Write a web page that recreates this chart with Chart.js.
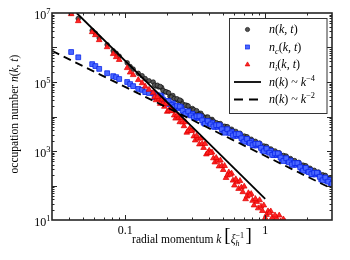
<!DOCTYPE html>
<html><head><meta charset="utf-8">
<script src="https://cdn.jsdelivr.net/npm/chart.js@4"></script>
<style>html,body{margin:0;padding:0;background:#fff;}canvas{display:block;}</style>
</head><body>
<canvas id="c" width="350" height="260"></canvas>
<script>
// ---- data (log-log) ----
const kSparse = [0.0411,0.0462,0.0581,0.0612,0.0652,0.0743,0.0821,0.0862,0.0906,0.1033,0.1085,0.114,0.124,0.132,0.139,0.148];
const nTotalSparse = [1.0e7,6.9e6,3.1e6,2.59e6,1.89e6,1.2e6,8.0e5,6.8e5,5.6e5,3.6e5,2.8e5,2.36e5,1.78e5,1.52e5,1.25e5,1.08e5];
const nCompSparse = [7.4e5,5.2e5,3.3e5,2.9e5,2.4e5,1.8e5,1.48e5,1.38e5,1.22e5,1.0e5,8.7e4,7.6e4,6.3e4,5.9e4,5.1e4,4.8e4];
const nIncSparse = [9.35e6,5.86e6,2.81e6,2.30e6,1.65e6,1.03e6,6.5e5,5.3e5,4.4e5,2.55e5,1.9e5,1.6e5,1.15e5,9.3e4,7.4e4,6.0e4];

const kDense = [0.1585,0.1660,0.1738,0.1820,0.1905,0.1995,0.2089,0.2188,0.2291,0.2399,
0.2512,0.2630,0.2754,0.2884,0.3020,0.3162,0.3311,0.3467,0.3631,0.3802,
0.3981,0.4169,0.4365,0.4571,0.4786,0.5012,0.5248,0.5495,0.5754,0.6026,
0.6310,0.6607,0.6918,0.7244,0.7586,0.7943,0.8318,0.8710,0.9120,0.9550,
1.000,1.047,1.096,1.148,1.202,1.259,1.318,1.380,1.445,1.514,
1.585,1.660,1.738,1.820,1.905,1.995,2.089,2.188,2.291,2.399,
2.512,2.630,2.754,2.884,2.951];
const nTotalDense = [99500,76200,71900,69500,53500,50300,38800,40500,31300,28900,
28100,21600,21000,16200,17000,13200,12600,12400,9680,9530,
7780,8230,6470,6260,6210,4890,5070,4000,4270,3370,
3280,3270,2590,2580,2050,2190,1740,1690,1690,1340,
1340,1072,1148,912,891,891,708,708,562,603,
479,468,468,372,372,295,316,251,245,245,
195,195,155,166,138];
const nCompDense = [47900,36300,36300,38000,26300,27500,22900,24000,18200,17400,
18200,12600,13800,11500,12000,9120,9120,9550,6610,7240,
6310,6610,5010,5010,5250,3630,4170,3470,3630,2750,
2750,2880,1995,2190,1820,1905,1445,1445,1514,1047,
1148,955,1000,759,759,794,550,603,501,525,
398,398,417,288,316,263,275,209,209,219,
151,166,138,145,115];
const nIncDense = [49000,29900,31600,30900,19400,13800,16100,14500,8790,9290,
9100,5280,3430,4390,3930,2040,2290,2330,1240,804,
1023,912,471,526,535,284,167,242,223,101,
125,136,64.7,40.4,60.3,57.0,26.7,33.8,37.8,18.4,
11.5,18.0,17.9,8.75,11.6,13.6,7.0,9.1];

const kHalf = [0.1622,0.1698,0.1778,0.1862,0.1950,0.2042,0.2138,0.2239,0.2344,0.2455,
0.2570,0.2692,0.2818,0.2951,0.3090,0.3236,0.3388,0.3548,0.3715,0.3890,
0.4074,0.4266,0.4467,0.4677,0.4898,0.5129,0.5370,0.5623,0.5888,0.6166,
0.6457,0.6761,0.7079,0.7413,0.7762,0.8128,0.8511,0.8913,0.9333,0.9772,
1.023,1.072,1.122,1.175,1.230,1.288,1.349,1.413,1.479,1.549,
1.622,1.698,1.778,1.862,1.950,2.042,2.138,2.239,2.344,2.455,
2.570,2.692,2.818,2.985];
const nTotalHalf = [81300,80400,74100,56900,51900,48500,36600,33200,32600,29900,
23000,21300,20200,15300,15700,14700,11400,10700,8970,9660,
7730,7290,6590,5960,5020,5210,5060,3990,3790,3690,
2860,2650,2710,2580,2050,1950,1905,1476,1374,1403,
1346,1072,1023,1000,776,724,741,708,562,537,
525,407,380,389,372,295,282,275,214,200,
204,195,155,145];
const nCompHalf = [37200,40700,40700,30900,23400,28200,21400,18600,20400,19500,
14800,11700,14100,10700,9330,10200,10200,7760,6170,7410,
5890,5130,5620,5620,4270,3390,4270,3240,2820,3090,
3090,2340,1860,2240,1700,1480,1620,1620,1230,977,
1175,891,776,851,851,646,513,617,468,407,
447,447,339,269,324,245,214,234,234,178,
141,170,129,110];
const nIncHalf = [36600,36900,23500,23700,23400,14600,14400,10800,10900,6900,
6820,6890,3800,3810,2670,2760,1570,1620,1620,889,
887,619,637,361,371,371,197,207,140,153,
80.4,87.9,93.8,48.4,52.4,36.4,40.9,22.0,24.7,26.7,
14.2,16.0,11.7,13.7,7.7,9.1,10.5];

const kLine4 = [0.0450, 1.0];   const nLine4 = [1.0e7, 41];   // n(k) ~ k^-4
const kLine2 = [0.03, 3.0];     const nLine2 = [8.0e5, 80];   // n(k) ~ k^-2

const yTickValues = [10, 1e3, 1e5, 1e7];
const yTickBase = ['10','10','10','10'];
const yTickExp = ['1','3','5','7'];
const xTickValues = [0.1, 1];
const xTickLabels = ['0.1','1'];

// ---- build datasets ----
const toXY = (ks, ns) => ns.map((n, i) => ({x: ks[i], y: n}));
const totalPts = toXY(kSparse, nTotalSparse).concat(toXY(kDense, nTotalDense), toXY(kHalf, nTotalHalf));
const compPts = toXY(kSparse, nCompSparse).concat(toXY(kDense, nCompDense), toXY(kHalf, nCompHalf));
const incPts = toXY(kSparse, nIncSparse).concat(toXY(kDense, nIncDense), toXY(kHalf, nIncHalf));
const line4 = toXY(kLine4, nLine4);
const line2 = toXY(kLine2, nLine2);

const BLUE_FILL = '#4a68ff', BLUE_EDGE = '#0a26e8';
const FAM = '"Liberation Serif", "Times New Roman", serif';
const fnt = p => (p.it ? 'italic ' : '') + p.s + 'px ' + FAM;
function rich(ctx, parts, x, y, measureOnly) {
  let cx = x;
  for (const p of parts) {
    if (p.stack) {
      let w = 0;
      for (const q of p.stack) {
        ctx.font = fnt(q);
        if (!measureOnly) ctx.fillText(q.t, cx, y + (q.dy || 0));
        w = Math.max(w, ctx.measureText(q.t).width);
      }
      cx += w;
    } else {
      ctx.font = fnt(p);
      if (!measureOnly) ctx.fillText(p.t, cx, y + (p.dy || 0));
      cx += ctx.measureText(p.t).width;
    }
  }
  return cx - x;
}
const nkt = (s, sub) => {
  const a = [{t:'n', s, it:1}];
  if (sub) a.push({t:sub, s:s*0.7, it:1, dy:3});
  a.push({t:'(', s}, {t:'k', s, it:1}, {t:', ', s}, {t:'t', s, it:1}, {t:')', s});
  return a;
};
const powLaw = (s, e) => [{t:'n', s, it:1},{t:'(', s},{t:'k', s, it:1},{t:')', s},{t:' ~ ', s},{t:'k', s, it:1},{t:e, s:s*0.7, dy:-5}];

const decor = {
  id: 'decor',
  afterDraw(chart) {
    const {ctx, chartArea: a, scales: {x, y}} = chart;
    ctx.save();
    ctx.fillStyle = '#000';
    ctx.textAlign = 'left';
    ctx.textBaseline = 'alphabetic';
    // ticks
    ctx.strokeStyle = '#262626';
    ctx.lineWidth = 1;
    ctx.beginPath();
    for (let d = 1; d <= 6; d++) {
      for (let m = 1; m <= 9; m++) {
        const v = m * Math.pow(10, d);
        if (d === 1 && m === 1) continue;
        const py = Math.round(y.getPixelForValue(v)) + 0.5;
        const L = m === 1 ? 5 : 2.5;
        ctx.moveTo(a.left, py); ctx.lineTo(a.left + L, py);
        ctx.moveTo(a.right, py); ctx.lineTo(a.right - L, py);
      }
    }
    for (let d = -2; d <= 0; d++) {
      for (let m = 1; m <= 9; m++) {
        const v = m * Math.pow(10, d);
        if (v <= 0.0301 || v >= 2.99) continue;
        const px = Math.round(x.getPixelForValue(v)) + 0.5;
        const L = m === 1 ? 5 : 2.5;
        ctx.moveTo(px, a.bottom); ctx.lineTo(px, a.bottom - L);
        ctx.moveTo(px, a.top); ctx.lineTo(px, a.top + L);
      }
    }
    ctx.stroke();
    // frame
    ctx.lineWidth = 1.6;
    ctx.strokeRect(a.left, a.top, a.right - a.left, a.bottom - a.top);

    // y tick labels
    yTickValues.forEach((v, i) => {
      const py = y.getPixelForValue(v);
      ctx.font = fnt({s:8.5});
      const we = ctx.measureText(yTickExp[i]).width;
      ctx.font = fnt({s:12});
      const wb = ctx.measureText(yTickBase[i]).width;
      const xr = a.left - 1.5;
      ctx.fillText(yTickBase[i], xr - we - wb, py + 6);
      ctx.font = fnt({s:8.5});
      ctx.fillText(yTickExp[i], xr - we, py + 1);
    });
    // x tick labels
    ctx.font = fnt({s:12});
    xTickValues.forEach((v, i) => {
      const px = x.getPixelForValue(v);
      const w = ctx.measureText(xTickLabels[i]).width;
      ctx.fillText(xTickLabels[i], px - w / 2, a.bottom + 14);
    });

    // x title
    const xt = [{t:'radial momentum ', s:11.5}, {t:'k', s:11.5, it:1}, {t:' ', s:11.5},
      {t:'[', s:19, dy:-1.5}, {t:'ξ', s:11.5, it:1},
      {stack:[{t:'−1', s:8, dy:-5}, {t:'h', s:8, it:1, dy:3}]}, {t:' ', s:6}, {t:']', s:19, dy:-1.5}];
    const wx = rich(ctx, xt, 0, 0, true);
    rich(ctx, xt, (a.left + a.right) / 2 - wx / 2, 242.5);

    // y title
    const yt = [{t:'occupation number ', s:11.5}].concat(nkt(11.5));
    const wy = rich(ctx, yt, 0, 0, true);
    ctx.save();
    ctx.translate(18, 114);
    ctx.rotate(-Math.PI / 2);
    rich(ctx, yt, -wy / 2, 0);
    ctx.restore();

    // legend
    const bx = 229.5, by = 18.5, bw = 97.5, bh = 95;
    ctx.fillStyle = '#fff';
    ctx.fillRect(bx, by, bw, bh);
    ctx.strokeStyle = '#333';
    ctx.lineWidth = 1;
    ctx.strokeRect(bx, by, bw, bh);
    const rows = [29.5, 47, 64.5, 82, 99.5];
    const mx = 247.5, tx = 269;
    ctx.beginPath(); ctx.arc(mx, rows[0], 2.1, 0, Math.PI * 2);
    ctx.fillStyle = '#555'; ctx.fill(); ctx.strokeStyle = '#111'; ctx.lineWidth = 0.7; ctx.stroke();
    ctx.fillStyle = BLUE_FILL; ctx.strokeStyle = BLUE_EDGE;
    ctx.fillRect(mx - 2, rows[1] - 2, 4, 4); ctx.strokeRect(mx - 2, rows[1] - 2, 4, 4);
    ctx.beginPath();
    ctx.moveTo(mx, rows[2] - 2.6); ctx.lineTo(mx + 2.3, rows[2] + 1.4); ctx.lineTo(mx - 2.3, rows[2] + 1.4); ctx.closePath();
    ctx.fillStyle = '#ff2424'; ctx.fill(); ctx.strokeStyle = '#e00000'; ctx.stroke();
    ctx.strokeStyle = '#000'; ctx.lineWidth = 1.8;
    ctx.beginPath(); ctx.moveTo(234, rows[3]); ctx.lineTo(261, rows[3]); ctx.stroke();
    ctx.setLineDash([9, 6]);
    ctx.beginPath(); ctx.moveTo(234, rows[4]); ctx.lineTo(261, rows[4]); ctx.stroke();
    ctx.setLineDash([]);
    ctx.fillStyle = '#000';
    rich(ctx, nkt(12), tx, rows[0] + 3.5);
    rich(ctx, nkt(12, 'c'), tx, rows[1] + 3.5);
    rich(ctx, nkt(12, 'i'), tx, rows[2] + 3.5);
    rich(ctx, powLaw(12, '−4'), tx, rows[3] + 3.5);
    rich(ctx, powLaw(12, '−2'), tx, rows[4] + 3.5);
    ctx.restore();
  }
};

new Chart(document.getElementById('c'), {
  type: 'scatter',
  data: { datasets: [
    {label:'n(k,t)', data: totalPts, pointStyle:'circle', pointRadius:2.3, backgroundColor:'#555', borderColor:'#111', borderWidth:0.7, order:4, clip:0},
    {label:'n_c(k,t)', data: compPts, pointStyle:'rect', pointRadius:3.4, backgroundColor:BLUE_FILL, borderColor:BLUE_EDGE, borderWidth:0.8, order:3, clip:0},
    {label:'n_i(k,t)', data: incPts, pointStyle:'triangle', pointRadius:3.3, backgroundColor:'#ff2424', borderColor:'#e00000', borderWidth:0.7, order:2, clip:0},
    {label:'k^-4', data: line4, showLine:true, pointRadius:0, borderColor:'#000', borderWidth:1.8, order:1, clip:0},
    {label:'k^-2', data: line2, showLine:true, pointRadius:0, borderColor:'#000', borderWidth:1.8, borderDash:[8,5], order:0, clip:0}
  ]},
  options: {
    responsive: false, animation: false, devicePixelRatio: 1, events: [],
    layout: {padding: {left: 52, right: 18, top: 13, bottom: 40}},
    scales: {
      x: {type: 'logarithmic', min: 0.03, max: 3, display: false},
      y: {type: 'logarithmic', min: 10, max: 1e7, display: false}
    },
    plugins: {legend: {display: false}, tooltip: {enabled: false}}
  },
  plugins: [decor]
});
</script>
</body></html>
